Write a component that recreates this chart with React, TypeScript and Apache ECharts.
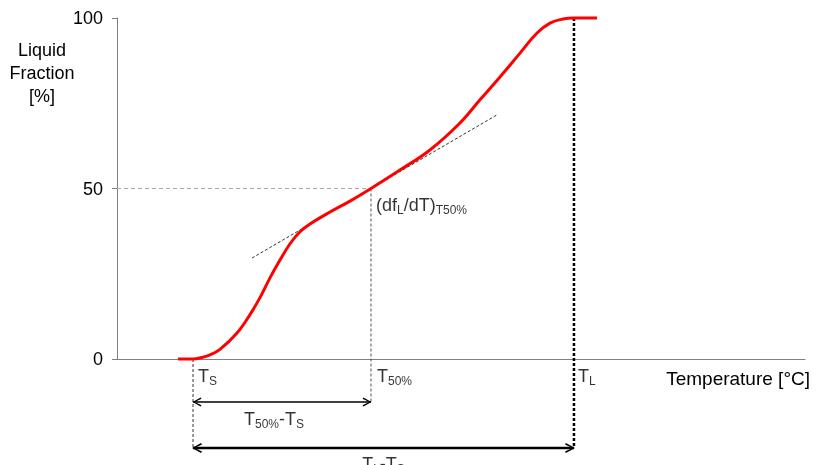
import React, { useEffect, useRef } from "react";
import * as echarts from "echarts";

// Curve: temperature (arbitrary units along the axis) vs liquid fraction [%]
const tempX = [8.87, 11.05, 12.06, 13.52, 14.97, 17.44, 19.33, 20.78, 22.24, 23.69, 25.15, 26.6, 28.05, 30.96, 33.87, 36.92, 41.13, 45.49, 49.85, 52.76, 55.67, 58.58, 61.05, 62.94, 64.83, 66.42, 69.77];
const liquidFraction = [0, 0, 0.3, 1.2, 2.8, 7.6, 13.0, 18.0, 23.8, 29.0, 33.8, 37.3, 39.6, 43.1, 46.3, 50, 55.4, 61.3, 69.2, 76.0, 82.7, 89.7, 95.6, 98.5, 99.7, 100, 100];

// Key temperatures
const T_S = 11.05;
const T_50 = 36.92;
const T_L = 66.42;

// Tangent at T50%
const tangentX = [19.62, 55.23];
const tangentY = [29.6, 71.6];

// Dimension-arrow levels (below the axis, in axis units)
const arrowLevels = [-12.6, -26.1];

const yTicks = [0, 50, 100];

const FONT = "'Liberation Sans', Arial, sans-serif";

export default function App() {
  const ref = useRef<HTMLDivElement>(null);
  useEffect(() => {
    document.body.style.margin = "0";
    const chart = echarts.init(ref.current!, null, { renderer: "svg" });
    const rich = {
      m: { fontSize: 18, fontFamily: FONT, color: "#000" },
      s: { fontSize: 12, fontFamily: FONT, color: "#000", padding: [10, 0, 0, 0] },
    };
    const chevron = "path://M0,5 L9,0 L10,1.4 L2.6,5 L10,8.6 L9,10 Z";
    const lbl = (text: string, pos: number[], align = "left") => ({
      show: true,
      formatter: text,
      position: pos,
      align,
      verticalAlign: "top",
      rich,
    });
    chart.setOption({
      animation: false,
      grid: { left: 117, right: 24, top: 18, bottom: 106, containLabel: false },
      xAxis: {
        type: "value",
        min: 0,
        max: 100,
        axisLine: { show: true, lineStyle: { color: "#808080", width: 1 } },
        axisTick: { show: false },
        axisLabel: { show: false },
        splitLine: { show: false },
        name: "Temperature [°C]",
        nameLocation: "end",
        nameGap: 5,
        nameTextStyle: {
          fontSize: 19,
          fontFamily: FONT,
          color: "#000",
          align: "right",
          verticalAlign: "top",
          padding: [10, 0, 0, 0],
        },
      },
      yAxis: {
        type: "value",
        min: 0,
        max: 100,
        interval: 50,
        axisLine: { show: true, lineStyle: { color: "#808080", width: 1 } },
        axisTick: { show: true, length: 5, lineStyle: { color: "#808080" } },
        axisLabel: {
          fontSize: 18,
          fontFamily: FONT,
          color: "#000",
          margin: 14,
          formatter: (v: number) => (yTicks.includes(v) ? String(v) : ""),
        },
        splitLine: { show: false },
      },
      graphic: [
        {
          type: "text",
          x: 42,
          y: 38,
          style: {
            text: "Liquid\nFraction\n[%]",
            font: `18px ${FONT}`,
            lineHeight: 23,
            align: "center",
            verticalAlign: "top",
            fill: "#000",
          },
        },
      ],
      series: [
        // 50% guide
        {
          type: "line",
          data: [[0, 50], [T_50, 50]],
          symbol: "none",
          lineStyle: { color: "#aaa", width: 1, type: [4, 3] },
          silent: true,
          clip: false,
        },
        // T50% vertical
        {
          type: "line",
          data: [[T_50, 50], [T_50, arrowLevels[0]]],
          symbol: "none",
          lineStyle: { color: "#555", width: 1, type: [3, 2] },
          clip: false,
        },
        // Ts vertical
        {
          type: "line",
          data: [[T_S, 0], [T_S, arrowLevels[1]]],
          symbol: "none",
          lineStyle: { color: "#333", width: 1, type: [3, 2] },
          clip: false,
        },
        // TL vertical (bold dotted)
        {
          type: "line",
          data: [[T_L, 100], [T_L, arrowLevels[1]]],
          symbol: "none",
          lineStyle: { color: "#000", width: 2.5, type: [3, 2] },
          clip: false,
        },
        // tangent
        {
          type: "line",
          data: [[tangentX[0], tangentY[0]], [tangentX[1], tangentY[1]]],
          symbol: "none",
          lineStyle: { color: "#333", width: 1, type: [3, 2] },
          clip: false,
        },
        // curve
        {
          type: "line",
          data: tempX.map((x, i) => [x, liquidFraction[i]]),
          symbol: "none",
          smooth: 0.4,
          lineStyle: { color: "#ff0000", width: 3 },
          clip: false,
          z: 5,
        },
        // arrow T50%-Ts
        {
          type: "line",
          data: [
            { value: [T_S, arrowLevels[0]], symbol: chevron, symbolSize: [9, 9], symbolRotate: 0, symbolOffset: [4, 0] },
            { value: [T_50, arrowLevels[0]], symbol: chevron, symbolSize: [9, 9], symbolRotate: 180, symbolOffset: [-4, 0] },
          ],
          showAllSymbol: true,
          lineStyle: { color: "#000", width: 1.5 },
          itemStyle: { color: "#000" },
          clip: false,
        },
        // arrow TL-Ts
        {
          type: "line",
          data: [
            { value: [T_S, arrowLevels[1]], symbol: chevron, symbolSize: [10, 10], symbolRotate: 0, symbolOffset: [4, 0] },
            { value: [T_L, arrowLevels[1]], symbol: chevron, symbolSize: [10, 10], symbolRotate: 180, symbolOffset: [-4, 0] },
          ],
          showAllSymbol: true,
          lineStyle: { color: "#000", width: 2.5 },
          itemStyle: { color: "#000" },
          clip: false,
        },
        // text annotations
        {
          type: "scatter",
          symbolSize: 0,
          clip: false,
          silent: true,
          data: [
            { value: [T_S, 0], label: lbl("{m|T}{s|S}", [5, 6]) },
            { value: [T_50, 0], label: lbl("{m|T}{s|50%}", [6, 6]) },
            { value: [T_L, 0], label: lbl("{m|T}{s|L}", [4, 6]) },
            { value: [T_50, 50], label: lbl("{m|(df}{s|L}{m|/dT)}{s|T50%}", [5, 5]) },
            { value: [(T_S + T_50) / 2, arrowLevels[0]], label: lbl("{m|T}{s|50%}{m|-T}{s|S}", [-8, 6], "center") },
            { value: [(T_S + T_L) / 2, arrowLevels[1]], label: lbl("{m|T}{s|L}{m|-T}{s|S}", [0, 5], "center") },
          ],
        },
      ],
    });
    return () => chart.dispose();
  }, []);
  return <div ref={ref} style={{ position: "fixed", left: 0, top: 0, width: 829, height: 465 }} />;
}
